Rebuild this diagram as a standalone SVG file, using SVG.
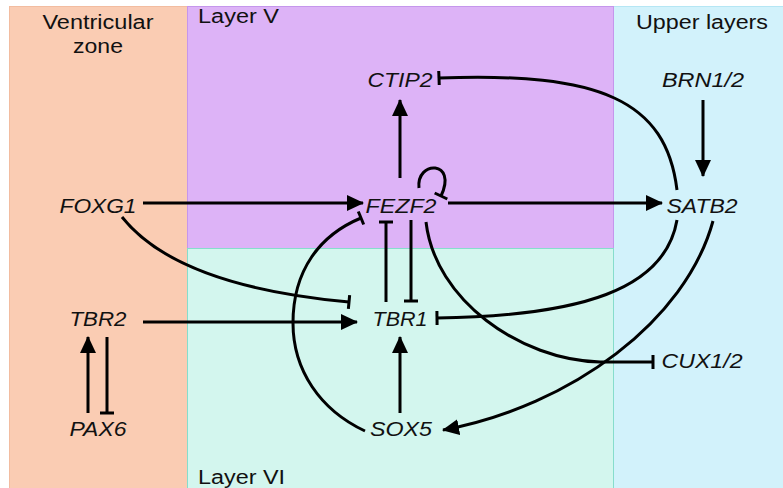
<svg xmlns="http://www.w3.org/2000/svg" width="783" height="488" viewBox="0 0 783 488">
<style>
.lbl{font-family:"Liberation Sans",Arial,sans-serif;font-size:20px;fill:#111}
.gene{font-family:"Liberation Sans",Arial,sans-serif;font-size:20px;font-style:italic;fill:#111;text-anchor:middle}
.c{fill:none;stroke:#000;stroke-width:3}
.act{marker-end:url(#arrow)}
.inh{marker-end:url(#tee)}
</style>
<defs>
<marker id="arrow" markerUnits="userSpaceOnUse" markerWidth="17" markerHeight="16" viewBox="0 0 17 16" refX="16" refY="8" orient="auto"><path d="M0,0 L17,8 L0,16 z" fill="#000"/></marker>
<marker id="tee" markerUnits="userSpaceOnUse" markerWidth="4" markerHeight="16" viewBox="-2 -8 4 16" refX="0" refY="0" orient="auto"><path d="M0,-7 V7" stroke="#000" stroke-width="3"/></marker>
</defs>
<g id="regions">
<rect id="ventricular-zone" x="9.5" y="6.5" width="178" height="482" fill="#FACCB3" stroke="#F2BCA0" stroke-width="1"/>
<rect id="upper-layers" x="613.5" y="6.5" width="170" height="482" fill="#D2F2FB" stroke="#B5E6F4" stroke-width="1"/>
<rect id="layer-v" x="187.5" y="6.5" width="426" height="242" fill="#DDB3F7" stroke="#C596EC" stroke-width="1"/>
<rect id="layer-vi" x="187.5" y="248.5" width="426" height="240" fill="#D3F6EE" stroke="#86DDCC" stroke-width="1"/>
<text class="lbl" x="98" y="29" text-anchor="middle" textLength="111" lengthAdjust="spacingAndGlyphs">Ventricular</text>
<text class="lbl" x="98" y="53" text-anchor="middle" textLength="50" lengthAdjust="spacingAndGlyphs">zone</text>
<text class="lbl" x="198" y="23" textLength="81" lengthAdjust="spacingAndGlyphs">Layer V</text>
<text class="lbl" x="702" y="29" text-anchor="middle" textLength="132" lengthAdjust="spacingAndGlyphs">Upper layers</text>
<text class="lbl" x="198" y="484" textLength="87" lengthAdjust="spacingAndGlyphs">Layer VI</text>
</g>
<g id="connectors">
<path class="c act" d="M143,203 H363"/>
<path class="c act" d="M448,203 H662"/>
<path class="c act" d="M400,178 V100"/>
<path class="c act" d="M703,100 V176"/>
<path class="c act" d="M143,322 H357"/>
<path class="c act" d="M88,413 V337"/>
<path class="c inh" d="M107,337 V413"/>
<path class="c act" d="M400,413 V337"/>
<path class="c inh" d="M411,220 V301"/>
<path class="c inh" d="M386,302 V222"/>
<path class="c inh" d="M677,190 C666,100 600,72 439,78"/>
<path class="c inh" d="M419,188 C416,160 458,160 441,196"/>
<path class="c inh" d="M426,222 C435,300 520,360 600,362 L653,362"/>
<path class="c inh" d="M677,220 C665,290 580,316 437,318"/>
<path class="c act" d="M713,221 C686,320 572,406 443,430"/>
<path class="c inh" d="M122,217 C160,265 240,292 349,302"/>
<path class="c inh" d="M365,431 C320,410 293,370 293,323 C293,270 320,235 361,218"/>
</g>
<g id="node-ctip2"><text class="gene" x="400" y="87" textLength="65" lengthAdjust="spacingAndGlyphs">CTIP2</text></g>
<g id="node-brn12"><text class="gene" x="703" y="87" textLength="82" lengthAdjust="spacingAndGlyphs">BRN1/2</text></g>
<g id="node-foxg1"><text class="gene" x="98" y="213" textLength="77" lengthAdjust="spacingAndGlyphs">FOXG1</text></g>
<g id="node-fezf2"><text class="gene" x="401" y="213" textLength="71" lengthAdjust="spacingAndGlyphs">FEZF2</text></g>
<g id="node-satb2"><text class="gene" x="702" y="213" textLength="71" lengthAdjust="spacingAndGlyphs">SATB2</text></g>
<g id="node-tbr2"><text class="gene" x="98" y="326" textLength="57" lengthAdjust="spacingAndGlyphs">TBR2</text></g>
<g id="node-tbr1"><text class="gene" x="400" y="326" textLength="55" lengthAdjust="spacingAndGlyphs">TBR1</text></g>
<g id="node-cux12"><text class="gene" x="702" y="368" textLength="81" lengthAdjust="spacingAndGlyphs">CUX1/2</text></g>
<g id="node-pax6"><text class="gene" x="98" y="436" textLength="57" lengthAdjust="spacingAndGlyphs">PAX6</text></g>
<g id="node-sox5"><text class="gene" x="401" y="436" textLength="62" lengthAdjust="spacingAndGlyphs">SOX5</text></g>
</svg>
